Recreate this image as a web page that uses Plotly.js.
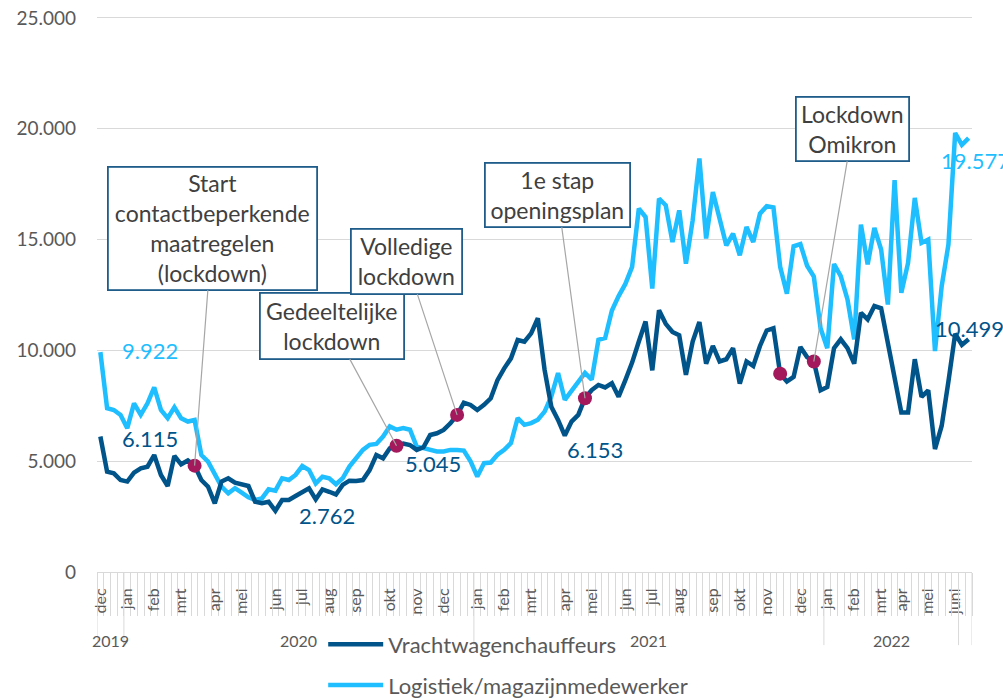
<!DOCTYPE html>
<html><head><meta charset="utf-8">
<script src="https://cdn.plot.ly/plotly-3.0.1.min.js"></script>
<style>html,body{margin:0;padding:0;background:#fff}#chart{width:1003px;height:699px}</style>
</head><body><div id="chart"></div>
<script>
// Month tick labels and the number of weekly categories in each month
const monthLabels = ['dec','jan','feb','mrt','apr','mei','jun','jul','aug','sep','okt','nov','dec',
  'jan','feb','mrt','apr','mei','jun','jul','aug','sep','okt','nov','dec',
  'jan','feb','mrt','apr','mei','juni'];
const monthWeeks = [4, 4,4,5,4,5,4,4,4,5,4,4,5, 4,4,5,4,5,4,4,5,4,4,5,4, 4,4,3,4,4,3];
const yearLabels = ['2019','2020','2021','2022',''];
const yearWeeks = [4,52,52,20,2];

const seriesDark = 'Vrachtwagenchauffeurs';
const seriesLight = 'Logistiek/magazijnmedewerker';

const dark = [6115,4530,4450,4150,4080,4480,4680,4750,5280,4380,3880,5240,4860,5030,4800,4150,3850,3100,4080,4230,
  4030,3930,3880,3170,3100,3170,2762,3250,3250,3430,3580,3780,3280,3730,3620,3500,3930,4120,4110,4150,
  4600,5280,5130,5580,5700,5800,5730,5510,5630,6180,6260,6410,6710,7090,7640,7540,7310,7540,7840,8660,
  9190,9640,10470,10390,10770,11450,9120,7460,6860,6153,6790,7090,7840,8210,8440,8330,8520,7910,8660,9450,
  10400,11300,9100,11810,11200,10830,10680,8900,10400,11280,9400,10200,9500,9600,10100,8500,9500,9300,10200,10900,
  11000,8950,8600,8800,10150,9700,9500,8200,8350,10100,10500,10100,9400,11700,11400,12000,11900,10300,8700,7200,
  7200,9600,7900,8200,5550,6600,8600,10750,10250,10499];
const light = [9922,7390,7310,7090,6490,7610,7090,7610,8330,7310,6940,7430,6940,6790,6860,5280,4980,4380,3850,3550,
  3780,3580,3370,3250,3320,3730,3670,4230,4150,4380,4780,4600,4000,4300,4230,3960,4230,4760,5140,5510,
  5740,5780,6110,6570,6420,6490,6420,5660,5590,5510,5440,5440,5510,5510,5480,4990,4310,4910,4940,5290,
  5510,5820,6950,6640,6720,6870,7240,7920,8980,7770,8150,8600,8980,8680,10480,10560,11800,12450,13000,13770,
  16400,16020,12790,16850,16550,14890,16320,13910,15870,18660,15050,17150,15870,14740,15270,14290,15570,14890,16170,16510,
  16450,13770,12560,14700,14800,13820,13330,11000,10100,13900,13350,12300,10500,15680,13880,15530,14550,12070,17680,12600,
  13950,16880,14850,15000,9970,12900,14780,19810,19280,19577];

// Events (week index) marked on the truck-driver series
const eventWeeks = [14,44,53,72,101,106];
const eventTexts = ['Start<br>contactbeperkende<br>maatregelen<br>(lockdown)','Gedeeltelijke<br>lockdown','Volledige<br>lockdown','1e stap<br>openingsplan',null,'Lockdown<br>Omikron'];

const weeks = dark.map((_, i) => i);

// tick positions from month week counts
const tickvals = []; let acc = 0;
monthWeeks.forEach(n => { tickvals.push(acc); acc += n; });

const DARK = '#00548A', LIGHT = '#1EBEFF', DOT = '#A3195B', BOX = '#1F5C8A';

const traces = [
  {x: weeks, y: light, name: seriesLight, type: 'scatter', mode: 'lines', legendgroup: 'b', legendrank: 2,
   line: {color: LIGHT, width: 4.5}},
  {x: weeks, y: dark, name: seriesDark, type: 'scatter', mode: 'lines', legendgroup: 'a', legendrank: 1,
   line: {color: DARK, width: 4.5}},
  {x: eventWeeks, y: eventWeeks.map(i => dark[i]), type: 'scatter', mode: 'markers', showlegend: false,
   marker: {color: DOT, size: 14}, hoverinfo: 'skip'}
];

const shapes = []; const annotations = [];
let pos = -0.5;
shapes.push({type:'line', xref:'x', yref:'paper', x0:pos, x1:pos, y0:0, y1:-0.132, line:{color:'#d9d9d9', width:1}});
yearWeeks.forEach((n, k) => {
  const mid = pos + n / 2;
  pos += n;
  shapes.push({type:'line', xref:'x', yref:'paper', x0:pos, x1:pos, y0:0, y1:-0.132, line:{color:'#d9d9d9', width:1}});
  if (yearLabels[k]) annotations.push({xref:'x', yref:'paper', x:mid, y:-0.123, text:yearLabels[k], showarrow:false,
    font:{size:16, color:'#595959'}, yanchor:'middle'});
});

// callout boxes: [box center index, box center value, width, height]
const boxSpec = [[16.66,15500,205,119],[34.4,11100,140,62],[45.5,14010,107,61],[67.9,17010,141,60],null,[111.75,19990,109,60]];
eventWeeks.forEach((w, k) => {
  if (!eventTexts[k]) return;
  const b = boxSpec[k];
  annotations.push({x: w, y: dark[w], xref:'x', yref:'y', axref:'x', ayref:'y', ax: b[0], ay: b[1],
    text: eventTexts[k], showarrow: true, arrowhead: 0, arrowwidth: 1.2, arrowcolor: '#A6A6A6', standoff: 0,
    bgcolor: '#ffffff', bordercolor: BOX, borderwidth: 1.8, borderpad: 1, width: b[2], height: b[3],
    font: {size: 23, color: '#404040'}, align: 'center', valign: 'middle'});
});

// data labels
const lab = (i, arr, color, xs, ys, txt) => annotations.push({x: i, y: arr[i], xref:'x', yref:'y', text: txt,
  showarrow:false, xanchor:'left', yanchor:'middle', xshift: xs, yshift: ys, font:{size:22, color: color}});
lab(0, light, LIGHT, 20, 2, '9.922');
lab(0, dark, DARK, 20, -2, '6.115');
lab(26, dark, DARK, 22, -5, '2.762');
annotations.push({x: 45, y: 5045, xref:'x', yref:'y', text:'5.045', showarrow:false, xanchor:'left', yanchor:'middle',
  yshift:-3, font:{size:22, color: DARK}});
lab(69, dark, DARK, 0, -14, '6.153');
lab(129, light, LIGHT, -30, -22, '19.577');
lab(129, dark, DARK, -36, 11, '10.499');

const layout = {
  width: 1003, height: 699,
  margin: {l: 97, r: 31, t: 18, b: 127, autoexpand: false},
  separators: ',.',
  paper_bgcolor: '#ffffff', plot_bgcolor: '#ffffff',
  font: {family: 'Lato, "Open Sans", sans-serif', color: '#595959'},
  xaxis: {range: [-0.5, 129.5], tickmode: 'array', tickvals: tickvals, ticktext: monthLabels, tickangle: -90,
    ticks: '', showgrid: false, zeroline: false, showline: true, mirror: true, linecolor: '#d9d9d9', linewidth: 1,
    tickfont: {size: 16, color: '#595959'}, ticklabelstandoff: 9, automargin: false,
    minor: {tickmode: 'linear', tick0: -0.5, dtick: 1, ticks: 'outside', ticklen: 43, tickcolor: '#d9d9d9', tickwidth: 1, showgrid: false},
    fixedrange: true},
  yaxis: {range: [0, 25000], tickmode: 'linear', tick0: 0, dtick: 5000, tickformat: ',d', gridcolor: '#d9d9d9', gridwidth: 1,
    zeroline: false, showline: false, ticks: '', tickfont: {size: 19, color: '#595959'}, ticklabelstandoff: 20,
    automargin: false, fixedrange: true},
  showlegend: true,
  legend: {x: 0.2585, y: -0.093, xanchor: 'left', yanchor: 'top', orientation: 'v', traceorder: 'grouped',
    font: {size: 22, color: '#595959'}, tracegroupgap: 9, itemwidth: 55, bgcolor: 'rgba(0,0,0,0)'},
  shapes: shapes,
  annotations: annotations
};

Plotly.newPlot('chart', traces, layout, {displayModeBar: false, staticPlot: true});
</script></body></html>
